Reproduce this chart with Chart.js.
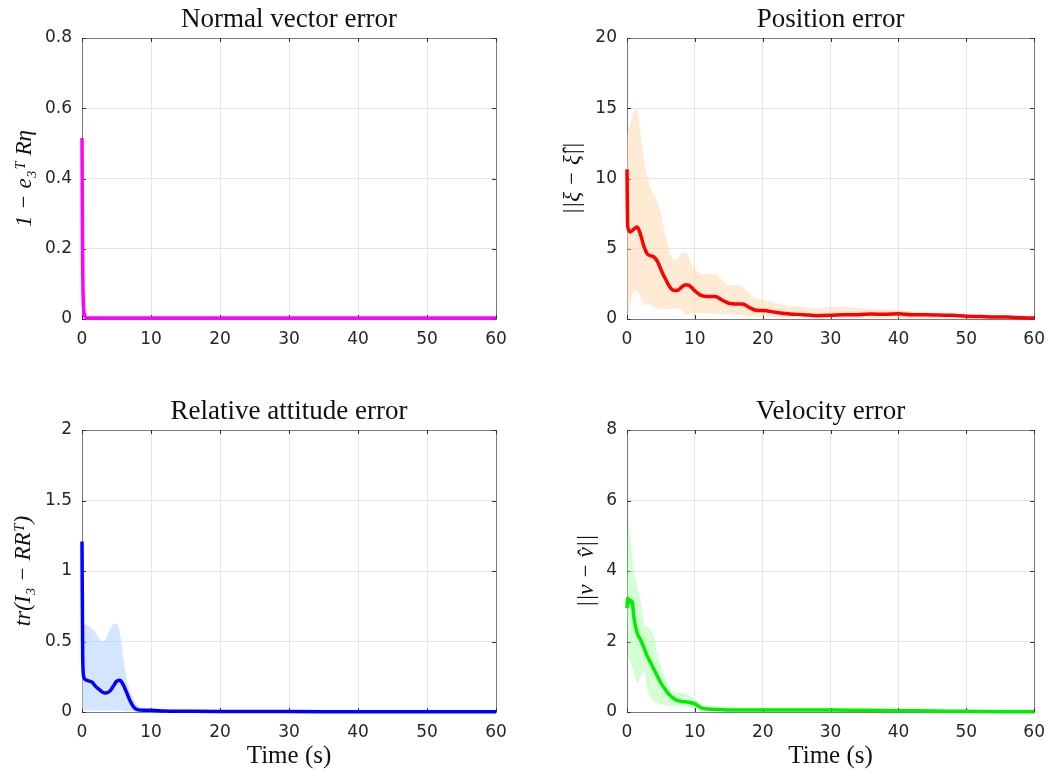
<!DOCTYPE html>
<html>
<head>
<meta charset="utf-8">
<script src="https://cdn.jsdelivr.net/npm/chart.js@4/dist/chart.umd.min.js"></script>
<style>
  body { margin: 0; background: #fff; }
  .box { position: absolute; }
</style>
</head>
<body>
<div class="box" style="left:0;top:0;width:520px;height:360px"><canvas id="c1"></canvas></div>
<div class="box" style="left:545px;top:0;width:510px;height:360px"><canvas id="c2"></canvas></div>
<div class="box" style="left:0;top:392px;width:520px;height:379px"><canvas id="c3"></canvas></div>
<div class="box" style="left:545px;top:392px;width:510px;height:379px"><canvas id="c4"></canvas></div>
<script>
// normal vector error
var normT = [0, 0.05, 0.1, 0.15, 0.2, 0.3, 0.4, 0.5, 0.7, 1, 60];
var normMean = [0.515, 0.3, 0.15, 0.08, 0.045, 0.018, 0.009, 0.005, 0.003, 0.003, 0.003];

// position error
var posT = [0, 0.1, 0.5, 1, 1.5, 2, 2.5, 3, 3.5, 4, 4.5, 5, 5.5, 6, 6.5, 7, 7.5, 8, 8.5, 9,
  9.5, 10, 11, 12, 13, 14, 15, 16, 17, 18, 19, 20, 22, 24, 26, 28, 30, 32, 34, 36,
  38, 40, 42, 44, 46, 48, 50, 52, 54, 56, 58, 60];
var posMean = [10.65, 6.6, 6.2, 6.4, 6.55, 6.0, 5.15, 4.63, 4.5, 4.4, 4.08, 3.53, 3.0, 2.54, 2.16, 2.02, 2.06, 2.25, 2.42, 2.42,
  2.25, 2.0, 1.66, 1.6, 1.6, 1.35, 1.12, 1.07, 1.07, 0.83, 0.62, 0.6, 0.47, 0.36, 0.31, 0.24, 0.26, 0.31, 0.31, 0.36,
  0.33, 0.38, 0.31, 0.31, 0.28, 0.26, 0.19, 0.17, 0.14, 0.14, 0.09, 0.07];
var posUpper = [12.5, 13.2, 13.9, 14.8, 14.9, 13.2, 11.3, 10.1, 9.3, 8.8, 8.35, 7.5, 6.33, 5.27, 4.44, 4.2, 4.3, 4.63, 4.72, 4.55,
  3.96, 3.6, 3.2, 3.2, 3.2, 2.78, 2.42, 2.4, 2.3, 1.83, 1.47, 1.35, 1.12, 0.93, 0.83, 0.74, 0.83, 0.88, 0.76, 0.71,
  0.69, 0.64, 0.52, 0.47, 0.4, 0.36, 0.26, 0.22, 0.2, 0.18, 0.15, 0.12];
var posLower = [0.3, 0.3, 1.1, 2.0, 2.0, 1.47, 1.0, 1.04, 1.07, 0.83, 0.75, 0.69, 0.69, 0.69, 0.72, 0.76, 0.72, 0.64, 0.28, 0.33,
  0.4, 0.45, 0.42, 0.4, 0.38, 0.36, 0.33, 0.31, 0.26, 0.21, 0.19, 0.17, 0.14, 0.12, 0.1, 0.1, 0.1, 0.09, 0.09, 0.08,
  0.08, 0.07, 0.07, 0.06, 0.06, 0.05, 0.05, 0.05, 0.04, 0.04, 0.03, 0.03];

// relative attitude error
var attT = [0, 0.1, 0.25, 0.5, 1, 1.5, 2, 2.5, 3, 3.5, 4, 4.5, 5, 5.5, 6, 6.5, 7, 7.5, 8, 9,
  10, 12, 15, 20, 30, 40, 50, 60];
var attMean = [1.21, 0.4, 0.25, 0.23, 0.22, 0.21, 0.18, 0.16, 0.14, 0.135, 0.147, 0.18, 0.217, 0.225, 0.19, 0.135, 0.076, 0.035, 0.017, 0.012,
  0.012, 0.007, 0.005, 0.003, 0.003, 0.002, 0.002, 0.002];
var attUpper = [0.62, 0.62, 0.62, 0.62, 0.61, 0.59, 0.56, 0.52, 0.5, 0.52, 0.58, 0.62, 0.63, 0.56, 0.37, 0.23, 0.147, 0.09, 0.05, 0.024,
  0.017, 0.01, 0.007, 0.005, 0.004, 0.004, 0.003, 0.003];
var attLower = [0.02, 0.02, 0.015, 0.012, 0.01, 0.01, 0.01, 0.01, 0.01, 0.01, 0.01, 0.01, 0.01, 0.01, 0.008, 0.006, 0.004, 0.003, 0.002, 0.002,
  0.002, 0.001, 0.001, 0.001, 0.001, 0.001, 0.001, 0.001];

// velocity error
var velT = [0, 0.1, 0.2, 0.3, 0.5, 0.8, 1, 1.5, 2, 2.5, 3, 3.5, 4, 4.5, 5, 5.5, 6, 6.5, 7, 7.5,
  8, 9, 10, 11, 12, 14, 16, 20, 25, 30, 35, 40, 45, 50, 55, 60];
var velMean = [2.95, 3.23, 3.2, 3.09, 3.17, 3.09, 2.71, 2.24, 2.05, 1.82, 1.58, 1.39, 1.2, 1.01, 0.82, 0.68, 0.54, 0.44, 0.37, 0.32,
  0.3, 0.28, 0.23, 0.11, 0.085, 0.066, 0.057, 0.057, 0.057, 0.057, 0.047, 0.038, 0.028, 0.02, 0.01, 0.005];
var velUpper = [3.0, 4.5, 5.55, 5.3, 4.98, 4.4, 4.04, 3.56, 3.19, 2.52, 2.41, 2.34, 2.1, 1.67, 1.3, 1.01, 0.78, 0.63, 0.56, 0.55,
  0.54, 0.49, 0.35, 0.21, 0.16, 0.14, 0.13, 0.11, 0.1, 0.1, 0.095, 0.085, 0.07, 0.057, 0.05, 0.04];
var velLower = [2.9, 2.0, 1.58, 1.5, 1.39, 1.25, 1.15, 0.82, 1.01, 1.15, 0.63, 0.4, 0.28, 0.24, 0.21, 0.2, 0.18, 0.17, 0.17, 0.16,
  0.16, 0.14, 0.11, 0.08, 0.066, 0.055, 0.05, 0.047, 0.047, 0.047, 0.04, 0.035, 0.03, 0.02, 0.015, 0.01];

var xTicks = [0, 10, 20, 30, 40, 50, 60];

function pts(t, v) {
  return t.map(function(x, i) { return {x: x, y: v[i]}; });
}

// box round the axes with inward tick marks, like matlab; drawn under the data
var frame = {
  id: 'frame',
  beforeDatasetsDraw: function(chart) {
    var ctx = chart.ctx, a = chart.chartArea, sx = chart.scales.x, sy = chart.scales.y;
    ctx.save();
    ctx.strokeStyle = '#7a7a7a';
    ctx.lineWidth = 1;
    ctx.strokeRect(Math.round(a.left) + 0.5, Math.round(a.top) + 0.5, Math.round(a.right - a.left), Math.round(a.bottom - a.top));
    ctx.strokeStyle = '#333';
    ctx.beginPath();
    sx.ticks.forEach(function(t) {
      var p = Math.round(sx.getPixelForValue(t.value)) + 0.5;
      ctx.moveTo(p, a.bottom); ctx.lineTo(p, a.bottom - 4);
      ctx.moveTo(p, a.top); ctx.lineTo(p, a.top + 4);
    });
    sy.ticks.forEach(function(t) {
      var p = Math.round(sy.getPixelForValue(t.value)) + 0.5;
      ctx.moveTo(a.left, p); ctx.lineTo(a.left + 4, p);
      ctx.moveTo(a.right, p); ctx.lineTo(a.right - 4, p);
    });
    ctx.stroke();
    ctx.restore();
  }
};

function makeChart(id, o) {
  var datasets = [{
    data: pts(o.t, o.mean),
    borderColor: o.color,
    borderWidth: 3.5,
    pointRadius: 0,
    fill: false,
    clip: 4,
    cubicInterpolationMode: 'monotone'
  }];
  if (o.upper) {
    datasets.push({
      data: pts(o.t, o.upper),
      borderWidth: 0,
      borderColor: 'rgba(0,0,0,0)',
      backgroundColor: o.band,
      pointRadius: 0,
      fill: '+1',
      cubicInterpolationMode: 'monotone'
    });
    datasets.push({
      data: pts(o.t, o.lower),
      borderWidth: 0,
      borderColor: 'rgba(0,0,0,0)',
      pointRadius: 0,
      fill: false,
      cubicInterpolationMode: 'monotone'
    });
  }
  return new Chart(document.getElementById(id), {
    type: 'line',
    data: {datasets: datasets},
    plugins: [frame],
    options: {
      responsive: true,
      maintainAspectRatio: false,
      animation: false,
      layout: {padding: {right: o.padRight, left: 0, top: 0, bottom: 0}},
      plugins: {
        legend: {display: false},
        tooltip: {enabled: false},
        title: {
          display: true,
          fullSize: false,
          text: o.title,
          color: '#111',
          font: {family: '"Liberation Serif", serif', size: 27, weight: 'normal', lineHeight: 1.2},
          padding: {top: 4, bottom: 1.6}
        }
      },
      scales: {
        x: {
          type: 'linear',
          min: 0, max: 60,
          afterBuildTicks: function(s) { s.ticks = xTicks.map(function(v) { return {value: v}; }); },
          afterFit: function(s) { s.height = o.xHeight; },
          grid: {color: '#e4e4e4', drawTicks: false},
          border: {display: false},
          ticks: {color: '#262626', padding: 10, maxRotation: 0, font: {family: '"DejaVu Sans"', size: 17}},
          title: {
            display: !!o.xTitle,
            text: o.xTitle || '',
            color: '#111',
            font: {family: '"Liberation Serif", serif', size: 25},
            padding: {top: 0, bottom: 0}
          }
        },
        y: {
          min: 0, max: o.yMax,
          ticks: {
            stepSize: o.yStep,
            color: '#262626', padding: 10,
            font: {family: '"DejaVu Sans"', size: 17},
            callback: function(v) { return String(+v.toFixed(2)); }
          },
          afterFit: function(s) { s.width = 82; },
          grid: {color: '#e4e4e4', drawTicks: false},
          border: {display: false},
          title: {
            display: true,
            text: o.yTitle,
            color: '#111',
            font: {family: '"Liberation Serif", serif', size: 23, style: 'italic'},
            padding: {top: o.yTitlePad, bottom: 0}
          }
        }
      }
    }
  });
}

makeChart('c1', {
  title: 'Normal vector error', yTitle: '1 \u2212 e\u2083\u1d40 R\u03b7',
  t: normT, mean: normMean, color: '#ff00ff',
  yMax: 0.8, yStep: 0.2, padRight: 24, xHeight: 41, yTitlePad: 11
});
makeChart('c2', {
  title: 'Position error', yTitle: '||\u03be \u2212 \u03be\u0302||',
  t: posT, mean: posMean, upper: posUpper, lower: posLower,
  color: '#ff0000', band: 'rgba(255,214,170,0.5)',
  yMax: 20, yStep: 5, padRight: 17, xHeight: 41, yTitlePad: 14
});
makeChart('c3', {
  title: 'Relative attitude error', yTitle: 'tr(I\u2083 \u2212 RR\u1d40)', xTitle: 'Time (s)',
  t: attT, mean: attMean, upper: attUpper, lower: attLower,
  color: '#0000ff', band: 'rgba(170,205,255,0.5)',
  yMax: 2, yStep: 0.5, padRight: 24, xHeight: 59, yTitlePad: 10
});
makeChart('c4', {
  title: 'Velocity error', yTitle: '||v \u2212 v\u0302||', xTitle: 'Time (s)',
  t: velT, mean: velMean, upper: velUpper, lower: velLower,
  color: '#00ee00', band: 'rgba(160,255,160,0.45)',
  yMax: 8, yStep: 2, padRight: 17, xHeight: 59, yTitlePad: 28
});
</script>
</body>
</html>
